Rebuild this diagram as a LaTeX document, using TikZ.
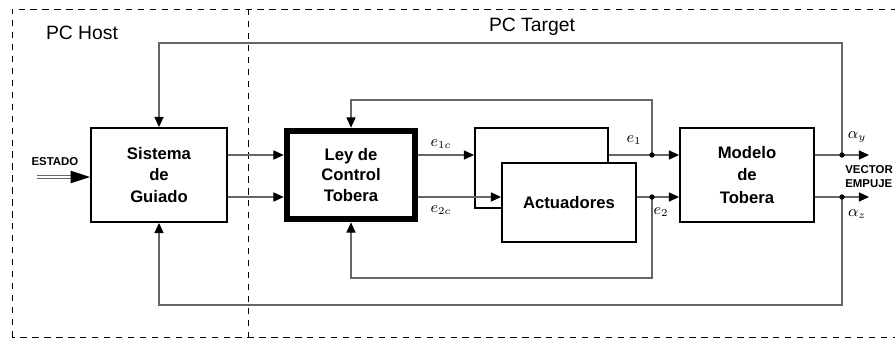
\documentclass[tikz,border=0pt]{standalone}
\usepackage{fontspec}
\setmainfont{Liberation Sans}
\usetikzlibrary{calc, arrows.meta, fit}
\tikzset{>={Triangle[length=5.8pt,width=5.2pt,color=black]}}
\tikzset{
  block/.style={draw, line width=1.1pt, fill=white, align=center, inner sep=0pt,
    minimum width=2.72cm, minimum height=1.88cm,
    font=\bfseries\fontsize{9.5}{12}\selectfont},
  conn/.style={draw=black!60, line width=0.6pt, ->},
  area/.style={dash pattern=on 3.6pt off 3.2pt, line width=0.5pt},
  sig/.style={font=\small, inner sep=1pt},
  tap/.style={circle, fill=black, inner sep=0pt, minimum size=3pt},
  tag/.style={font=\bfseries\fontsize{6.5}{7.8}\selectfont, inner sep=0pt},
}

\begin{document}
\begin{tikzpicture}[x=0.02cm, y=0.02cm]
\useasboundingbox (0,0) rectangle (895,339);

% host / target areas
\draw[area] (12,2) rectangle (910,330);
\draw[area] (248,330) -- (248,2);
\node[font=\fontsize{11}{13}\selectfont] (host) at (82,306) {PC Host};
\node[font=\fontsize{11}{13}\selectfont] (target) at (532,312) {PC Target};

% blocks
\node[block] (guiado) at (159,164) {Sistema\\de\\Guiado};
\node[block, line width=2.6pt, minimum width=2.54cm, minimum height=1.74cm,
  font=\bfseries\fontsize{9.5}{11.6}\selectfont] (ley) at (351,164) {Ley de\\Control\\Tobera};
\node[draw, line width=0.6pt, fit=(ley), inner sep=0.6pt] (leyframe) {};
\node[block, minimum width=2.66cm, minimum height=1.6cm] (actB) at (541.5,171) {};
\node[block, minimum width=2.68cm, minimum height=1.58cm] (actF) at (569,136.5) {Actuadores};
\node[block, minimum width=2.68cm, font=\bfseries\fontsize{9.5}{13}\selectfont] (modelo) at (747,164) {Modelo\\de\\Tobera};

% input
\coordinate (estado) at (37,162);
\node[tag] (estadolbl) at (55,177) {ESTADO};
\draw[draw=black!60, line width=0.6pt, double, double distance=0.9pt,
  -{Triangle[length=11pt,width=7pt,color=black]}] (estado) -- (guiado.west |- estado);

% forward path
\draw[conn] (guiado.east |- 0,184) -- (leyframe.west |- 0,184);
\draw[conn] (guiado.east |- 0,142) -- (leyframe.west |- 0,142);
\draw[conn] (leyframe.east |- 0,184) -- (actB.west |- 0,184);
\draw[conn] (leyframe.east |- 0,142) -- (actF.west |- 0,142);
\draw[conn] (actB.east |- 0,184) -- (modelo.west |- 0,184);
\draw[conn] (actF.east |- 0,142) -- (modelo.west |- 0,142);
\node[sig] (e1c) at (441,195) {$e_{1c}$};
\node[sig] (e2c) at (441,129) {$e_{2c}$};
\node[sig] (e1) at (634,199) {$e_1$};
\node[sig] (e2) at (661,127) {$e_2$};

% inner loop
\coordinate (tap1) at (652,184);
\coordinate (tap2) at (652,142);
\draw[conn] (tap1) -- (tap1 |- 0,239) -| (leyframe.north);
\draw[conn] (tap2) -- (tap2 |- 0,61) -| (leyframe.south);
\node[tap] at (tap1) {};
\node[tap] at (tap2) {};

% outputs and outer loop
\coordinate (out1) at (842,184);
\coordinate (out2) at (842,142);
\coordinate (vec1) at (869,184);
\coordinate (vec2) at (869,142);
\draw[conn] (modelo.east |- out1) -- (vec1);
\draw[conn] (modelo.east |- out2) -- (vec2);
\draw[conn] (out1) -- (out1 |- 0,296) -| (guiado.north);
\draw[conn] (out2) -- (out2 |- 0,34) -| (guiado.south);
\node[tap] at (out1) {};
\node[tap] at (out2) {};
\node[sig] (ay) at (857,202) {$\alpha_y$};
\node[sig] (az) at (857,125) {$\alpha_z$};
\node[tag, anchor=west, align=left] (vector) at (845,162.5) {VECTOR\\EMPUJE};
\end{tikzpicture}
\end{document}
